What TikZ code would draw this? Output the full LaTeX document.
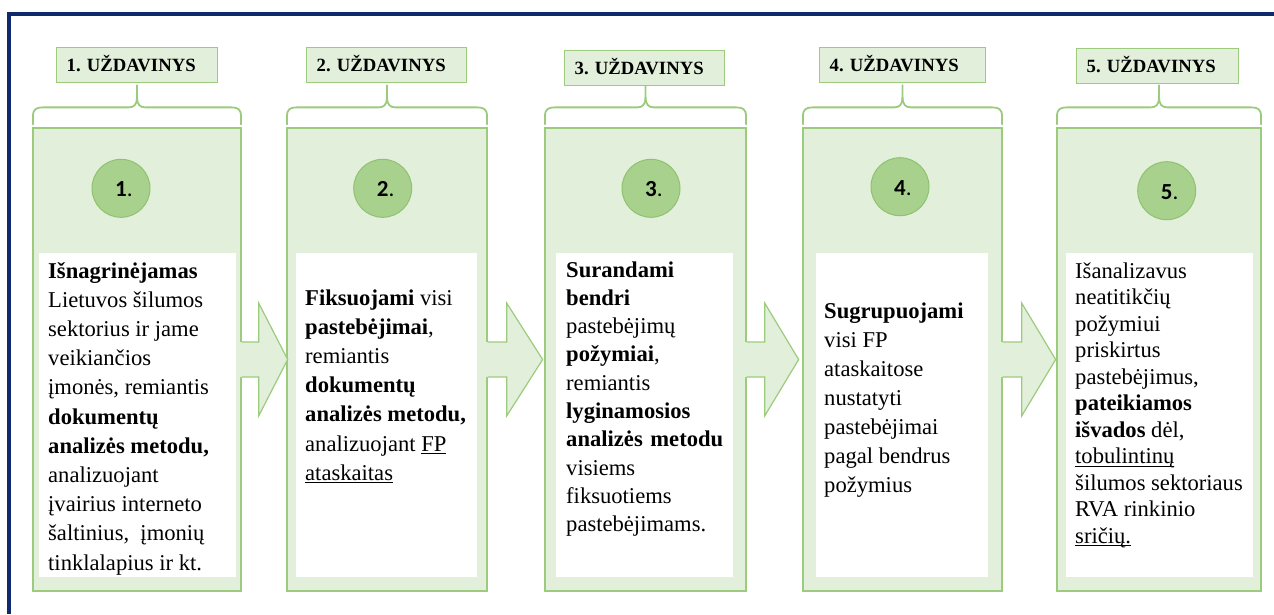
\documentclass[tikz,border=0pt]{standalone}
\usepackage{fontspec}
\setmainfont{Liberation Serif}
\newfontfamily\numfont{Carlito}
\usetikzlibrary{calc}

\definecolor{colfill}{HTML}{E2EFDA}
\definecolor{colline}{HTML}{9CCB7D}
\definecolor{dotfill}{HTML}{A9D18E}
\definecolor{dotline}{HTML}{8FC26F}
\definecolor{framecol}{HTML}{0E2A6C}

\tikzset{
  colbox/.style={draw=colline, fill=colfill, line width=1.3pt, inner sep=0pt, minimum height=463pt},
  whitebox/.style={fill=white, inner sep=0pt, minimum height=324pt},
  taskbox/.style={draw=colline, fill=colfill, line width=1.3pt, anchor=north west,
    inner xsep=10pt, inner ysep=0pt, minimum height=35pt, align=left,
    text height=12.4pt, text depth=0pt,
    font=\rmfamily\fontsize{18.7}{20}\selectfont\bfseries},
  dot/.style={circle, draw=dotline, fill=dotfill, line width=1pt, minimum size=58pt,
    inner sep=0pt, text height=17pt, text depth=0pt,
    font=\numfont\fontsize{23}{24}\selectfont},
  bracket/.style={draw=colline, line width=1.8pt, line cap=round, line join=round},
  body/.style={anchor=base west, inner sep=0pt},
  flowline/.style={draw=colline, line width=1.2pt, line join=miter},
}

% underline set a little below the baseline
\newcommand\ulword[1]{\leavevmode\setbox0\hbox{#1}\rlap{\rule[-3pt]{\wd0}{1pt}}\box0}

% step number: bold digit centred, plain full stop hanging to its right
\newcommand\stepno[1]{\textbf{#1}\rlap{.}}

% curly bracket above a column; #1 column node, #2 half of its width
\newcommand\colbrace[2]{%
  \begin{scope}[shift={(#1.north)}]
    \draw[bracket] (-#2,-3) -- (-#2,-11) .. controls (-#2,-18) and (-#2+3,-20) .. (-#2+10,-20)
      -- (-8,-20) .. controls (-3,-20) and (0,-23) .. (0,-30) -- (0,-42);
    \draw[bracket] (#2,-3) -- (#2,-11) .. controls (#2,-18) and (#2-3,-20) .. (#2-10,-20)
      -- (8,-20) .. controls (3,-20) and (0,-23) .. (0,-30);
  \end{scope}}

% block arrow leaving a column; #1 column node, #2 shaft length, #3 tip distance
\newcommand\flowarrow[3]{%
  \begin{scope}[shift={(#1.east)}]
    \fill[colfill] (-2,-17.5) -- (#2,-17.5) -- (#2,-56.5) -- (#3,0) -- (#2,56.5)
      -- (#2,17.5) -- (-2,17.5) -- cycle;
    \draw[flowline] (0,-17.5) -- (#2,-17.5) -- (#2,-56.5) -- (#3,0) -- (#2,56.5)
      -- (#2,17.5) -- (0,17.5);
  \end{scope}}

\newcommand\bodyfont[1]{\fontsize{22.6}{#1}\selectfont\raggedright}

\frenchspacing
\begin{document}
\begin{tikzpicture}[x=1pt, y=-1pt]
  \useasboundingbox (0,0) rectangle (1274,614);

  % outer frame
  \draw[framecol, line width=3.6pt, line join=miter] (1274,14) -- (8.7,14) -- (8.7,614);

  % columns
  \node[colbox, minimum width=208pt] (col1) at (137,359.5) {};
  \node[colbox, minimum width=200pt] (col2) at (387,359.5) {};
  \node[colbox, minimum width=201pt] (col3) at (645.5,359.5) {};
  \node[colbox, minimum width=199pt] (col4) at (902.5,359.5) {};
  \node[colbox, minimum width=204pt] (col5) at (1159,359.5) {};

  % brackets
  \colbrace{col1}{104}
  \colbrace{col2}{100}
  \colbrace{col3}{100.5}
  \colbrace{col4}{99.5}
  \colbrace{col5}{102}

  % white text panels
  \node[whitebox, minimum width=197pt] (wb1) at (137.5,415) {};
  \node[whitebox, minimum width=181pt] (wb2) at (386.5,415) {};
  \node[whitebox, minimum width=177pt] (wb3) at (644.5,415) {};
  \node[whitebox, minimum width=172pt] (wb4) at (902,415) {};
  \node[whitebox, minimum width=187pt] (wb5) at (1159.5,415) {};

  % arrows between columns
  \flowarrow{col1}{17}{46}
  \flowarrow{col2}{19}{55}
  \flowarrow{col3}{18}{52}
  \flowarrow{col4}{19}{53}

  % step numbers
  \node[dot] (n1) at (121,188.3) {\stepno{1}};
  \node[dot] (n2) at (382.7,188.3) {\stepno{2}};
  \node[dot] (n3) at (651,188.3) {\stepno{3}};
  \node[dot] (n4) at (900,186.7) {\stepno{4}};
  \node[dot] (n5) at (1166.7,190.7) {\stepno{5}};

  % task labels
  \node[taskbox, text width=141pt] (t1) at (56,47) {1. UŽDAVINYS};
  \node[taskbox, text width=140pt] (t2) at (306,47) {2. UŽDAVINYS};
  \node[taskbox, text width=140pt] (t3) at (564,50) {3. UŽDAVINYS};
  \node[taskbox, text width=146pt] (t4) at (819,47) {4. UŽDAVINYS};
  \node[taskbox, text width=142pt] (t5) at (1076,48) {5. UŽDAVINYS};

  % column texts
  \node[body] (tx1) at (48,278) {\parbox[t]{186pt}{\bodyfont{29.2}%
    \textbf{Išnagrinėjamas}\\
    Lietuvos šilumos\\
    sektorius ir jame\\
    veikiančios\\
    įmonės, remiantis\\
    \textbf{dokumentų}\\
    \textbf{analizės metodu,}\\
    analizuojant\\
    įvairius interneto\\
    šaltinius,\ \ įmonių\\
    tinklalapius ir kt.}};

  \node[body] (tx2) at (305,305) {\parbox[t]{170pt}{\bodyfont{29.2}%
    \textbf{Fiksuojami} visi\\
    \textbf{pastebėjimai},\\
    remiantis\\
    \textbf{dokumentų}\\
    \textbf{analizės metodu,}\\
    analizuojant \ulword{FP}\\
    \ulword{ataskaitas}}};

  \node[body] (tx3) at (566,277) {\parbox[t]{165pt}{\bodyfont{28.3}%
    \textbf{Surandami}\\
    \textbf{bendri}\\
    pastebėjimų\\
    \textbf{požymiai},\\
    remiantis\\
    \textbf{lyginamosios}\\
    \makebox[157pt][s]{\textbf{analizės metodu}}\\
    visiems\\
    fiksuotiems\\
    pastebėjimams.}};

  \node[body] (tx4) at (824,318) {\parbox[t]{160pt}{\bodyfont{29}%
    \textbf{Sugrupuojami}\\
    visi FP\\
    ataskaitose\\
    nustatyti\\
    pastebėjimai\\
    pagal bendrus\\
    požymius}};

  \node[body] (tx5) at (1075,278) {\parbox[t]{176pt}{\bodyfont{26.5}%
    Išanalizavus\\
    neatitikčių\\
    požymiui\\
    priskirtus\\
    pastebėjimus,\\
    \textbf{pateikiamos}\\
    \textbf{išvados} dėl,\\
    \ulword{tobulintinų}\\
    šilumos sektoriaus\\
    RVA rinkinio\\
    \ulword{sričių.}}};
\end{tikzpicture}
\end{document}
